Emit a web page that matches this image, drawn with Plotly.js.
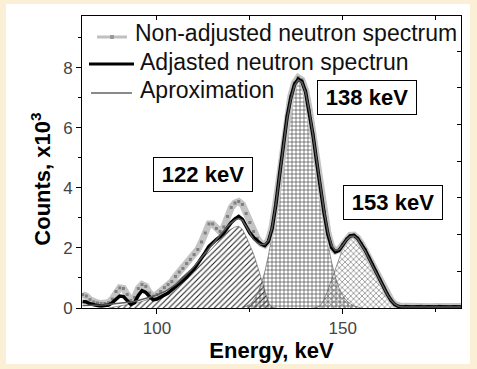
<!DOCTYPE html>
<html>
<head>
<meta charset="utf-8">
<script src="https://cdn.plot.ly/plotly-3.0.1.min.js"></script>
<style>
  html, body { margin: 0; padding: 0; width: 477px; height: 369px; overflow: hidden; background: #fbf0d5; }
  #frame { position: absolute; left: 6px; top: 4px; width: 464px; height: 360px; background: #ffffff; }
  #chart { width: 464px; height: 360px; }
</style>
</head>
<body>
<div id="frame"><div id="chart"></div></div>
<script>
// Spectrum sampled every 1 keV starting at 80 keV (counts in thousands)
const spectrumStart = 80;
const nonAdjusted = [
  0.45, 0.40, 0.28, 0.20, 0.17, 0.15, 0.15, 0.18, 0.30, 0.55,
  0.67, 0.65, 0.45, 0.25, 0.35, 0.65, 0.78, 0.72, 0.50, 0.40,
  0.45, 0.55, 0.68, 0.78, 0.88, 1.05, 1.20, 1.32, 1.48, 1.62,
  1.78, 1.95, 2.20, 2.50, 2.80, 2.80, 2.65, 2.55, 2.70, 3.05,
  3.35, 3.50, 3.55, 3.45, 3.15, 2.85, 2.55, 2.32, 2.15, 2.10,
  2.25, 2.70, 3.50, 4.50, 5.50, 6.40, 7.05, 7.50, 7.68, 7.60,
  7.25, 6.60, 5.80, 4.90, 4.00, 3.20, 2.50, 2.05, 1.90, 1.95,
  2.12, 2.30, 2.42, 2.43, 2.33, 2.15, 1.95, 1.70, 1.45, 1.20,
  0.95, 0.70, 0.47, 0.27, 0.12, 0.07, 0.05, 0.06, 0.05, 0.04,
  0.05, 0.06, 0.05, 0.05, 0.04, 0.05, 0.06, 0.05, 0.05, 0.04,
  0.05, 0.05, 0.05
];
const adjusted = [
  0.22, 0.20, 0.14, 0.10, 0.08, 0.07, 0.08, 0.10, 0.18, 0.30,
  0.40, 0.38, 0.25, 0.12, 0.18, 0.42, 0.58, 0.52, 0.38, 0.27,
  0.30, 0.36, 0.42, 0.50, 0.60, 0.70, 0.80, 0.90, 1.03, 1.17,
  1.30, 1.48, 1.65, 1.85, 2.05, 2.18, 2.28, 2.38, 2.50, 2.68,
  2.85, 2.97, 3.05, 2.95, 2.70, 2.50, 2.35, 2.24, 2.13, 2.08,
  2.22, 2.65, 3.45, 4.45, 5.45, 6.35, 7.00, 7.45, 7.63, 7.55,
  7.20, 6.55, 5.75, 4.85, 3.95, 3.15, 2.45, 2.02, 1.87, 1.92,
  2.10, 2.28, 2.40, 2.42, 2.32, 2.14, 1.93, 1.68, 1.43, 1.18,
  0.93, 0.68, 0.45, 0.25, 0.11, 0.05, 0.03, 0.04, 0.03, 0.03,
  0.04, 0.03, 0.03, 0.04, 0.03, 0.03, 0.04, 0.03, 0.03, 0.03,
  0.04, 0.03, 0.03
];
const approximation = [
  0.08, 0.08, 0.09, 0.09, 0.10, 0.10, 0.11, 0.12, 0.13, 0.14,
  0.15, 0.16, 0.18, 0.20, 0.22, 0.25, 0.28, 0.31, 0.35, 0.39,
  0.43, 0.48, 0.54, 0.61, 0.69, 0.78, 0.88, 0.99, 1.11, 1.24,
  1.38, 1.53, 1.68, 1.84, 2.00, 2.15, 2.30, 2.44, 2.58, 2.72,
  2.84, 2.93, 2.98, 2.92, 2.72, 2.48, 2.28, 2.17, 2.12, 2.12,
  2.25, 2.68, 3.45, 4.42, 5.40, 6.30, 6.95, 7.40, 7.60, 7.52,
  7.18, 6.55, 5.75, 4.87, 3.98, 3.20, 2.52, 2.08, 1.92, 1.95,
  2.10, 2.27, 2.38, 2.40, 2.30, 2.12, 1.90, 1.65, 1.40, 1.15,
  0.90, 0.66, 0.44, 0.26, 0.13, 0.06, 0.03, 0.03, 0.03, 0.03,
  0.03, 0.03, 0.03, 0.03, 0.03, 0.03, 0.03, 0.03, 0.03, 0.03,
  0.03, 0.03, 0.03
];

// Fitted components, each with its own first energy (1 keV step)
const peak122Start = 87;
const peak122 = [
  0.00, 0.02, 0.04, 0.06, 0.08, 0.10, 0.12, 0.15, 0.18, 0.22,
  0.26, 0.30, 0.34, 0.39, 0.46, 0.55, 0.65, 0.75, 0.85, 0.95,
  1.05, 1.15, 1.26, 1.38, 1.50, 1.62, 1.74, 1.86, 2.00, 2.14,
  2.30, 2.44, 2.56, 2.64, 2.70, 2.72, 2.62, 2.38, 2.10, 1.80,
  1.42, 1.00, 0.60, 0.18, 0.02, 0.00
];
const peak138Start = 123;
const peak138 = [
  0.03, 0.06, 0.12, 0.25, 0.45, 0.78, 1.20, 1.75, 2.45, 3.27,
  4.18, 5.13, 6.03, 6.80, 7.33, 7.59, 7.52, 7.15, 6.51, 5.68,
  4.75, 3.81, 2.92, 2.15, 1.52, 1.03, 0.66, 0.41, 0.25, 0.14,
  0.07, 0.03, 0.00
];
const peak153Start = 142;
const peak153 = [
  0.00, 0.02, 0.08, 0.30, 0.60, 0.95, 1.35, 1.70, 1.98, 2.20,
  2.35, 2.40, 2.32, 2.12, 1.85, 1.58, 1.32, 1.06, 0.80, 0.55,
  0.33, 0.16, 0.05, 0.00
];

const seriesNames = ['Non-adjusted neutron spectrum', 'Adjasted neutron spectrun', 'Aproximation'];
const peakLabels = ['122 keV', '138 keV', '153 keV'];
const peakLabelX = [112.4, 156.5, 163.6];
const peakLabelY = [4.45, 7.0, 3.53];
const xTickStep = 50;
const yTickStep = 2;

const energiesFrom = (start, values) => values.map((_, i) => start + i);
const spectrumEnergy = energiesFrom(spectrumStart, nonAdjusted);

const FONT = 'Liberation Sans, Arial, sans-serif';

// plot area inside the chart div, in pixels
const AREA = { left: 76, top: 12, width: 379, height: 292 };
const px = (x) => (x - AREA.left) / AREA.width;
const py = (y) => (AREA.top + AREA.height - y) / AREA.height;

function component(start, values, shape, fg) {
  return {
    x: energiesFrom(start, values), y: values,
    type: 'scatter', mode: 'lines',
    line: { color: '#555', width: 0.6 },
    fill: 'tozeroy',
    fillpattern: { shape: shape, size: 4, solidity: 0.28, fgcolor: fg, bgcolor: 'rgba(0,0,0,0)' },
    hoverinfo: 'skip'
  };
}

const traces = [
  component(peak122Start, peak122, '/', '#222'),
  component(peak138Start, peak138, '+', '#333'),
  component(peak153Start, peak153, 'x', '#666'),
  {
    x: spectrumEnergy, y: nonAdjusted, type: 'scatter', mode: 'lines+markers', name: seriesNames[0],
    line: { color: '#c4c4c4', width: 7 },
    marker: { symbol: 'square', size: 3, color: '#808080' }
  },
  {
    x: spectrumEnergy, y: adjusted, type: 'scatter', mode: 'lines', name: seriesNames[1],
    line: { color: '#000', width: 3.5 }
  },
  {
    x: spectrumEnergy, y: approximation, type: 'scatter', mode: 'lines', name: seriesNames[2],
    line: { color: '#5a5a5a', width: 1.5 }
  },
  // carries the top and right frame axes
  { x: [null], y: [null], type: 'scatter', xaxis: 'x2', yaxis: 'y2', hoverinfo: 'skip' }
];

// key: sample line, label start and label centre, in chart pixels
const keyRows = [
  { x0: 91, x1: 121, yLine: 33, color: '#c0c0c0', width: 3, marker: true, textX: 128, textY: 29.5 },
  { x0: 83, x1: 128, yLine: 60, color: '#000000', width: 3, marker: false, textX: 132.5, textY: 57.5 },
  { x0: 85, x1: 126, yLine: 89, color: '#8a8a8a', width: 2, marker: false, textX: 132.5, textY: 86 }
];

const shapes = [];
const keyTexts = [];
keyRows.forEach((r, i) => {
  shapes.push({
    type: 'line', xref: 'paper', yref: 'paper',
    x0: px(r.x0), x1: px(r.x1), y0: py(r.yLine), y1: py(r.yLine),
    line: { color: r.color, width: r.width }
  });
  if (r.marker) {
    const cx = (r.x0 + r.x1) / 2;
    shapes.push({
      type: 'rect', xref: 'paper', yref: 'paper',
      x0: px(cx - 2), x1: px(cx + 2), y0: py(r.yLine + 2), y1: py(r.yLine - 2),
      fillcolor: '#9a9a9a', line: { width: 0 }
    });
  }
  keyTexts.push({
    xref: 'paper', yref: 'paper', x: px(r.textX), y: py(r.textY),
    xanchor: 'left', yanchor: 'middle', showarrow: false, borderpad: 0,
    text: seriesNames[i], font: { family: FONT, size: 23, color: '#111' }
  });
});

const xRange = [79.85, 181.8];
const layout = {
  width: 464, height: 360, autosize: false,
  margin: { l: AREA.left, r: 464 - AREA.left - AREA.width, t: AREA.top, b: 360 - AREA.top - AREA.height },
  paper_bgcolor: '#ffffff', plot_bgcolor: '#ffffff',
  font: { family: FONT, color: '#000' },
  showlegend: false,
  xaxis: {
    range: xRange, tick0: 0, dtick: xTickStep,
    ticks: 'outside', ticklen: 5, tickwidth: 1, tickcolor: '#000',
    minor: { dtick: 25, ticks: 'outside', ticklen: 3, tickcolor: '#000' },
    showline: true, linecolor: '#000', linewidth: 1,
    showgrid: false, zeroline: false,
    tickfont: { family: FONT, size: 17, color: '#444' },
    title: { text: 'Energy, keV', font: { family: FONT, size: 22, weight: 'bold', color: '#000' }, standoff: 3 }
  },
  xaxis2: {
    range: xRange, overlaying: 'x', side: 'top', anchor: 'y',
    tick0: 0, dtick: 25, ticks: 'inside', ticklen: 4, tickcolor: '#000',
    showticklabels: false, showline: true, linecolor: '#000', linewidth: 1,
    showgrid: false, zeroline: false
  },
  yaxis: {
    range: [0, 9.73], tick0: 0, dtick: yTickStep,
    ticks: 'outside', ticklen: 5, tickwidth: 1, tickcolor: '#000',
    minor: { dtick: 1, ticks: 'outside', ticklen: 3, tickcolor: '#000' },
    showline: true, linecolor: '#000', linewidth: 1,
    showgrid: false, zeroline: false,
    tickfont: { family: FONT, size: 17, color: '#444' }
  },
  yaxis2: {
    range: [0, 7.96], overlaying: 'y', side: 'right', anchor: 'x',
    tick0: 0, dtick: 1, ticks: 'inside', ticklen: 4, tickcolor: '#000',
    showticklabels: false, showline: true, linecolor: '#000', linewidth: 1,
    showgrid: false, zeroline: false
  },
  shapes: shapes,
  annotations: peakLabels.map((t, i) => ({
    x: peakLabelX[i], y: peakLabelY[i], xref: 'x', yref: 'y',
    text: t, showarrow: false,
    font: { family: FONT, size: 22, weight: 'bold', color: '#000' },
    bgcolor: '#ffffff', bordercolor: '#000', borderwidth: 1, borderpad: 2,
    width: 94, height: 29
  })).concat(keyTexts, [{
    xref: 'paper', yref: 'paper', x: px(34.7), y: py(175),
    xanchor: 'center', yanchor: 'middle', showarrow: false, textangle: -90,
    text: '<b>Counts, x10<sup>3</sup></b>',
    font: { family: FONT, size: 22, color: '#000' }
  }])
};

Plotly.newPlot('chart', traces, layout, { staticPlot: true, displayModeBar: false });
</script>
</body>
</html>
